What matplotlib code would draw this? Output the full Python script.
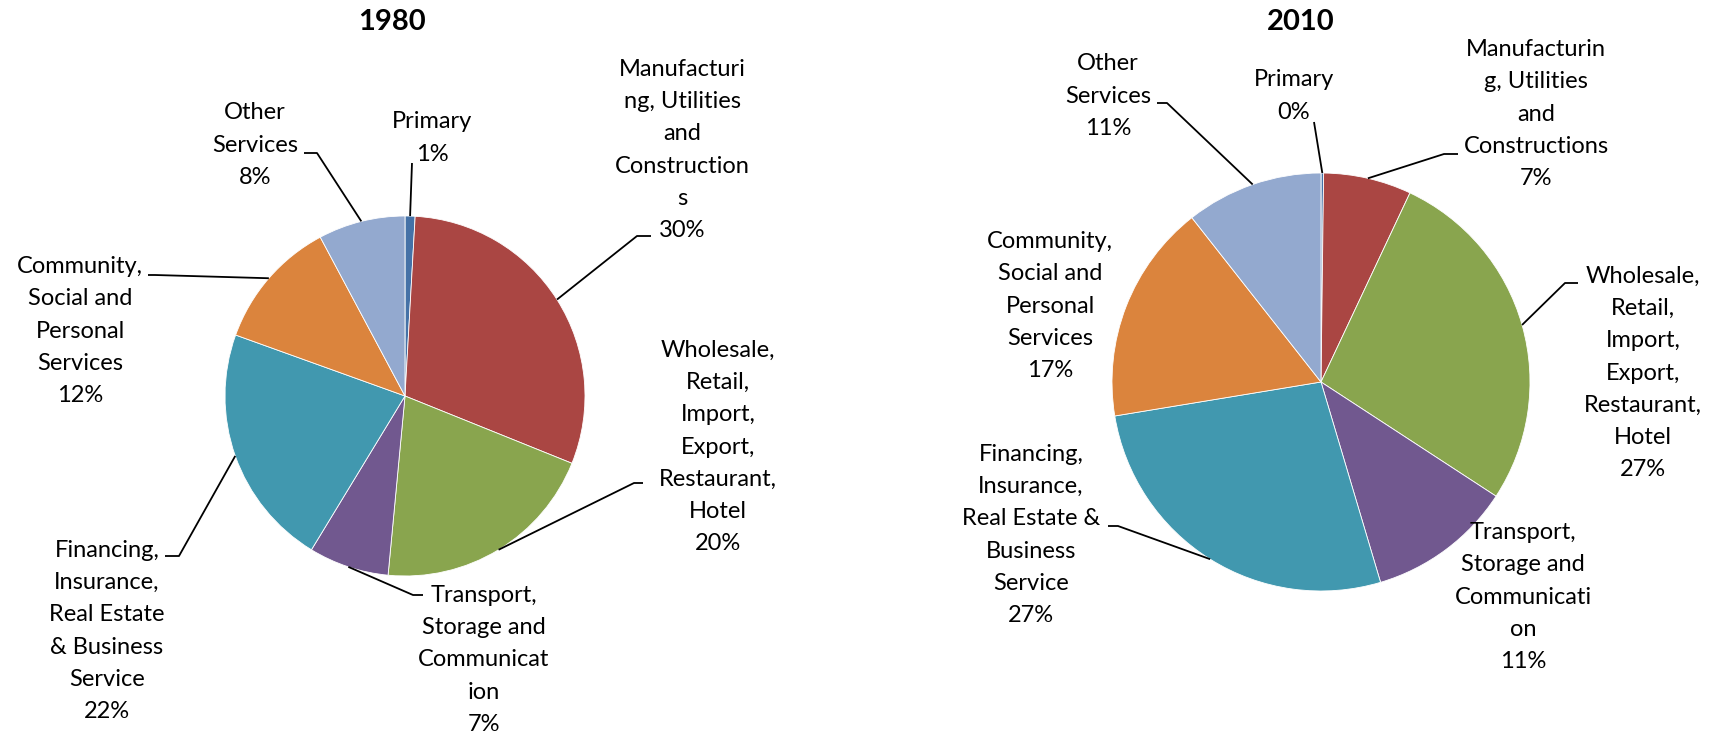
import matplotlib
matplotlib.use('Agg')
import matplotlib.pyplot as plt
import numpy as np

plt.rcParams['font.family'] = ['Lato', 'DejaVu Sans']

# sectors, clockwise from 12 o'clock
sectors = ['Primary',
           'Manufacturing, Utilities and Constructions',
           'Wholesale, Retail, Import, Export, Restaurant, Hotel',
           'Transport, Storage and Communication',
           'Financing, Insurance, Real Estate & Business Service',
           'Community, Social and Personal Services',
           'Other Services']
colors = ['#4572A7', '#AA4643', '#89A54E', '#71588F', '#4198AF', '#DB843D', '#93A9CF']

share_1980 = [0.9, 30.2, 20.4, 7.2, 21.8, 11.7, 7.8]
share_2010 = [0.2, 6.8, 27.2, 11.2, 27.0, 17.0, 10.6]

# label text wrapped the way the original chart wraps it
labels_1980 = ['Primary', 'Manufacturi\nng, Utilities\nand\nConstruction\ns',
               'Wholesale,\nRetail,\nImport,\nExport,\nRestaurant,\nHotel',
               'Transport,\nStorage and\nCommunicat\nion',
               'Financing,\nInsurance,\nReal Estate\n& Business\nService',
               'Community,\nSocial and\nPersonal\nServices', 'Other\nServices']
labels_2010 = ['Primary', 'Manufacturin\ng, Utilities\nand\nConstructions',
               'Wholesale,\nRetail,\nImport,\nExport,\nRestaurant,\nHotel',
               'Transport,\nStorage and\nCommunicati\non',
               'Financing,\nInsurance,\nReal Estate &\nBusiness\nService',
               'Community,\nSocial and\nPersonal\nServices', 'Other\nServices']

# layout in pixels (y downwards)
panels = [
    {
        'title': '1980', 'title_pos': (392, 22),
        'shares': share_1980, 'labels': labels_1980,
        'center': (405, 396), 'radius': 180,
        'label_pos': [(432, 138), (682, 150), (718, 447), (484, 660),
                      (107, 631), (80, 331), (255, 145)],
        'leaders': [((412, 163), (412, 163)), ((651, 236), (637, 236)),
                    ((643, 483), (634, 483)), ((423, 595), (413, 595)),
                    ((165, 556), (179, 556)), ((148, 275), (155, 275)),
                    ((304, 153), (317, 153))],
    },
    {
        'title': '2010', 'title_pos': (1301, 22),
        'shares': share_2010, 'labels': labels_2010,
        'center': (1321, 382), 'radius': 209,
        'label_pos': [(1294, 96), (1536, 114), (1643, 373), (1523, 597),
                      (1031, 535), (1050, 306), (1108, 96)],
        'leaders': [((1314, 122), (1314, 122)), ((1458, 154), (1444, 154)),
                    ((1578, 283), (1565, 283)), None,
                    ((1108, 526), (1118, 526)), None,
                    ((1157, 103), (1167, 103))],
    },
]

fig = plt.figure(figsize=(17.19, 7.35), dpi=100)
ax = fig.add_axes([0, 0, 1, 1])

for p in panels:
    shares = np.array(p['shares'])
    cx, cy = p['center']
    r = p['radius']
    # y axis is inverted, so counterclock=True draws clockwise on screen
    ax.pie(shares, colors=colors, startangle=-90, counterclock=True,
           center=(cx, cy), radius=r, frame=True,
           wedgeprops=dict(edgecolor='white', linewidth=0.6))

    cum = np.cumsum(shares) - shares / 2
    theta = np.deg2rad(-90 + 360 * cum / shares.sum())
    for i, lab in enumerate(p['labels']):
        tx, ty = p['label_pos'][i]
        ax.text(tx, ty, f"{lab}\n{shares[i]:.0f}%", ha='center', va='center',
                fontsize=17, linespacing=1.66, color='black')
        if p['leaders'][i] is not None:
            tail, elbow = p['leaders'][i]
            px = cx + r * np.cos(theta[i])
            py = cy + r * np.sin(theta[i])
            ax.plot([tail[0], elbow[0], px], [tail[1], elbow[1], py],
                    color='black', lw=1.3, solid_capstyle='butt')

    ax.text(p['title_pos'][0], p['title_pos'][1], p['title'], ha='center',
            va='center', fontsize=21, fontweight='bold')

ax.set_xlim(0, 1719)
ax.set_ylim(735, 0)
ax.set_aspect('equal')
ax.set_axis_off()

fig.savefig('out.png', dpi=100)
